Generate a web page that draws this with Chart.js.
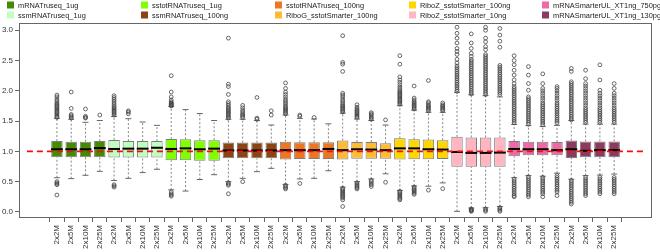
<!DOCTYPE html>
<html>
<head>
<meta charset="utf-8">
<script src="https://cdn.jsdelivr.net/npm/chart.js@4.4.1/dist/chart.umd.min.js"></script>
<style>
  html, body { margin: 0; padding: 0; background: #fff; }
</style>
</head>
<body>
<canvas id="Chart" width="660" height="252"></canvas>
<script>
// libraries / sequencing depths
const groups = ['mRNATruseq_1ug', 'ssmRNATruseq_1ug', 'sstotRNATruseq_1ug', 'ssmRNATruseq_100ng',
  'sstotRNATruseq_100ng', 'RiboG_sstotSmarter_100ng', 'RiboZ_sstotSmarter_100ng',
  'RiboZ_sstotSmarter_10ng', 'mRNASmarterUL_XT1ng_750pg', 'mRNASmarterUL_XT1ng_130pg'];
const depths = ['2x2M', '2x5M', '2x10M', '2x25M'];
const groupColors = ['#458B00', '#C1FFC1', '#7FFF00', '#8B4513', '#EE7621',
  '#FFBB33', '#FFD700', '#FFB6C1', '#EE6AA7', '#8B3A62'];
const yTicks = [0, 0.5, 1, 1.5, 2, 2.5, 3];
const refLine = 1.0;

// box statistics, one value per box (10 groups x 4 depths)
const q3 = [1.17, 1.16, 1.16, 1.17,  1.19, 1.17, 1.17, 1.17,  1.205, 1.2, 1.185, 1.185,
  1.145, 1.145, 1.145, 1.145,  1.16, 1.15, 1.15, 1.15,  1.18, 1.155, 1.155, 1.135,
  1.215, 1.2, 1.195, 1.185,  1.24, 1.23, 1.23, 1.23,  1.17, 1.16, 1.16, 1.155,
  1.18, 1.165, 1.165, 1.165];
const medians = [1.035, 1.035, 1.035, 1.055,  1.04, 1.045, 1.045, 1.06,  1.04, 1.05, 1.035, 1.045,
  1.015, 1.015, 1.015, 1.015,  1.02, 1.02, 1.02, 1.04,  1.02, 1.035, 1.03, 1.02,
  1.05, 1.05, 1.035, 1.03,  0.99, 0.975, 0.975, 0.98,  1.04, 1.035, 1.035, 1.02,
  1.035, 1.01, 1.02, 1.02];
const q1 = [0.905, 0.905, 0.905, 0.905,  0.9, 0.9, 0.9, 0.9,  0.855, 0.855, 0.845, 0.845,
  0.885, 0.885, 0.885, 0.885,  0.865, 0.875, 0.875, 0.875,  0.865, 0.88, 0.88, 0.88,
  0.865, 0.87, 0.87, 0.875,  0.745, 0.745, 0.745, 0.745,  0.92, 0.935, 0.935, 0.935,
  0.89, 0.905, 0.905, 0.905];
const whiskerHigh = [1.545, 1.53, 1.48, 1.51,  1.575, 1.54, 1.485, 1.43,  1.74, 1.69, 1.625, 1.51,
  1.53, 1.53, 1.51, 1.435,  1.6, 1.545, 1.535, 1.455,  1.63, 1.535, 1.51, 1.435,
  1.755, 1.68, 1.645, 1.645,  1.975, 1.935, 1.92, 1.9,  1.445, 1.425, 1.41, 1.43,
  1.51, 1.45, 1.45, 1.45];
const whiskerLow = [0.565, 0.55, 0.605, 0.67,  0.52, 0.555, 0.65, 0.705,  0.365, 0.345, 0.535, 0.615,
  0.5, 0.555, 0.665, 0.72,  0.455, 0.545, 0.555, 0.68,  0.41, 0.5, 0.545, 0.63,
  0.355, 0.43, 0.425, 0.48,  0.01, 0.065, 0.07, 0.09,  0.565, 0.6, 0.59, 0.64,
  0.54, 0.6, 0.61, 0.625];
const outliers = [
  [1.56, 1.58, 1.6, 1.62, 1.64, 1.66, 1.68, 1.7, 1.72, 1.74, 1.76, 1.78, 1.8, 1.83, 1.86, 1.9, 1.93, 0.5, 0.48, 0.46, 0.45, 0.28],
  [1.55, 1.57, 1.59, 1.61, 1.71, 1.98],
  [1.55, 1.56, 1.58, 1.7],
  [1.6],
  [1.6, 1.62, 1.64, 1.66, 1.68, 1.7, 1.72, 1.74, 1.77, 1.8, 1.83, 1.86, 1.89, 1.92, 0.45, 0.43, 0.41],
  [1.62, 1.65, 1.67],
  [],
  [],
  [1.75, 1.76, 1.77, 1.78, 1.79, 1.8, 1.82, 1.85, 1.9, 1.98, 2.25, 0.33, 0.3, 0.28, 0.26],
  [],
  [],
  [],
  [1.55, 1.57, 1.59, 1.61, 1.63, 1.65, 1.67, 1.69, 1.71, 1.73, 1.76, 1.79, 1.82, 1.94, 2.07, 2.11, 2.87, 0.48, 0.46, 0.44, 0.3],
  [1.56, 1.58, 1.6, 1.62, 1.65, 1.68, 1.72, 1.76, 0.5],
  [1.53, 1.55, 1.89],
  [1.6, 1.67],
  [1.62, 1.64, 1.66, 1.68, 1.7, 1.72, 1.74, 1.77, 1.8, 1.83, 1.86, 1.9, 1.94, 1.98, 2.04, 2.13, 0.44, 0.42, 0.4, 0.38],
  [1.58, 1.6, 0.47],
  [1.56],
  [],
  [1.65, 1.67, 1.69, 1.71, 1.73, 1.75, 1.77, 1.8, 1.83, 1.86, 1.9, 1.93, 1.96, 2.32, 2.44, 2.47, 2.91,
    0.39, 0.37, 0.35, 0.33, 0.31, 0.29, 0.27, 0.25, 0.23, 0.2, 0.09],
  [1.56, 1.58, 1.6, 1.62, 1.64, 1.66, 1.68, 1.7, 1.73, 1.77, 0.48, 0.46, 0.44, 0.42, 0.4, 0.38],
  [1.53, 1.55, 1.57, 1.6, 1.62, 1.64, 0.52, 0.5, 0.47, 0.45, 0.42],
  [1.52, 0.49],
  [1.78, 1.8, 1.82, 1.84, 1.86, 1.88, 1.9, 1.92, 1.94, 1.96, 1.98, 2.0, 2.03, 2.06, 2.1, 2.14, 2.18, 2.23, 2.44, 2.58,
    0.34, 0.32, 0.3, 0.28, 0.26, 0.24, 0.22, 0.2],
  [1.7, 1.72, 1.74, 1.76, 1.78, 1.8, 1.82, 1.85, 1.88, 2.08, 0.41, 0.39, 0.37, 0.35, 0.33, 0.31, 0.29],
  [1.67, 1.69, 1.71, 1.73, 1.75, 1.77, 1.8, 1.82, 2.17, 0.36],
  [1.67, 1.69, 1.71, 1.73, 1.75, 1.77, 1.8, 0.385],
  [3.05, 2.95, 2.87, 2.79, 2.7, 2.65, 2.6, 2.52, 2.46, 2.41, 2.38, 2.35, 2.32, 2.29, 2.26, 2.23, 2.2, 2.17,
    2.14, 2.11, 2.08, 2.05, 2.02, 1.99],
  [2.94, 2.79, 2.7, 2.62, 2.57, 2.52, 2.49, 2.46, 2.43, 2.4, 2.37, 2.34, 2.31, 2.28, 2.25, 2.22, 2.19, 2.16,
    2.13, 2.1, 2.07, 2.04, 2.01, 1.98, 1.95, 0.05, 0.04, 0.03, 0.02, 0.01],
  [3.05, 3.0, 2.87, 2.81, 2.73, 2.68, 2.6, 2.57, 2.54, 2.51, 2.48, 2.45, 2.42, 2.39, 2.36, 2.33, 2.3, 2.27,
    2.24, 2.21, 2.18, 2.15, 2.12, 2.09, 2.06, 2.03, 2.0, 1.97, 1.94, 0.05, 0.03, 0.01],
  [3.03, 2.92, 2.82, 2.72, 2.42, 2.39, 2.36, 2.33, 2.3, 2.27, 2.24, 2.21, 2.18, 2.15, 2.12, 2.09, 2.06, 2.03,
    2.0, 1.97, 1.94, 0.07, 0.05, 0.03, 0.01],
  [2.58, 2.5, 2.43, 2.34, 2.26, 2.18, 2.12, 2.07, 2.04, 2.01, 1.98, 1.95, 1.92, 1.89, 1.86, 1.83, 1.8, 1.77,
    1.74, 1.71, 1.68, 1.65, 1.62, 1.59, 1.56, 1.53, 1.5, 1.47,
    0.54, 0.51, 0.48, 0.45, 0.42, 0.39, 0.36, 0.33, 0.3, 0.27, 0.25],
  [2.4, 2.26, 2.12, 2.01, 1.9, 1.87, 1.84, 1.81, 1.78, 1.75, 1.72, 1.69, 1.66, 1.63, 1.6, 1.57, 1.54, 1.51, 1.48, 1.45,
    0.58, 0.55, 0.52, 0.49, 0.46, 0.43, 0.4, 0.37, 0.34, 0.31, 0.28, 0.25],
  [2.28, 2.12, 2.04, 2.0, 1.96, 1.92, 1.88, 1.84, 1.8, 1.77, 1.74, 1.71, 1.68, 1.65, 1.62, 1.59, 1.56, 1.53, 1.5, 1.47, 1.44,
    0.57, 0.54, 0.51, 0.48, 0.45, 0.42, 0.39, 0.36, 0.33, 0.3, 0.25],
  [2.07, 2.04, 2.0, 1.96, 1.92, 1.88, 1.84, 1.8, 1.77, 1.74, 1.71, 1.68, 1.65, 1.62, 1.59, 1.56, 1.53, 1.5, 1.47,
    0.6, 0.57, 0.54, 0.51, 0.48, 0.45, 0.42, 0.39, 0.36, 0.33, 0.27],
  [2.37, 2.32, 2.15, 2.12, 2.09, 2.06, 2.03, 2.0, 1.97, 1.94, 1.91, 1.88, 1.85, 1.82, 1.79, 1.76, 1.73, 1.7, 1.67,
    1.64, 1.61, 1.58, 1.55, 1.52, 0.52, 0.49, 0.46, 0.43, 0.4, 0.37, 0.34, 0.31, 0.28, 0.25, 0.22, 0.19, 0.16, 0.13],
  [2.34, 2.2, 2.12, 2.08, 2.04, 2.0, 1.96, 1.92, 1.88, 1.84, 1.8, 1.76, 1.72, 1.69, 1.66, 1.63, 1.6, 1.57, 1.54, 1.51, 1.48,
    0.57, 0.54, 0.51, 0.48, 0.45, 0.42, 0.39, 0.36, 0.33, 0.3, 0.27],
  [2.43, 2.18, 2.01, 1.96, 1.92, 1.88, 1.84, 1.8, 1.76, 1.72, 1.69, 1.66, 1.63, 1.6, 1.57, 1.54, 1.51, 1.48,
    0.57, 0.54, 0.51, 0.48, 0.45, 0.42, 0.39, 0.36, 0.33, 0.3],
  [2.12, 2.04, 1.96, 1.92, 1.88, 1.84, 1.8, 1.76, 1.72, 1.69, 1.66, 1.63, 1.6, 1.57, 1.54, 1.51, 1.48,
    0.57, 0.54, 0.51, 0.48, 0.45, 0.42, 0.39, 0.36, 0.33, 0.3]
];

// R style axis range: boxes at 1..n, extended 4%
const nBox = groups.length * depths.length;
const xMin = 0.5 - 0.04 * nBox, xMax = nBox + 0.5 + 0.04 * nBox;
const yMin = -0.1, yMax = 3.12;

const xLabels = groups.flatMap(() => depths);

// datasets
const boxSets = groups.map((g, gi) => ({
  type: 'bar',
  label: g,
  data: depths.map((d, j) => {
    const i = gi * depths.length + j;
    return { x: i + 1, y: [q1[i], q3[i]] };
  }),
  backgroundColor: groupColors[gi],
  borderColor: 'rgba(70,70,70,0.7)',
  borderWidth: 1,
  borderSkipped: false,
  grouped: false,
  barPercentage: 0.8,
  categoryPercentage: 1,
  order: 4
}));

const whiskerData = [];
const capData = [];
const medData = [];
const outData = [];
for (let i = 0; i < nBox; i++) {
  whiskerData.push({ x: i + 1, y: whiskerLow[i] }, { x: i + 1, y: q1[i] }, { x: i + 1, y: null });
  whiskerData.push({ x: i + 1, y: q3[i] }, { x: i + 1, y: whiskerHigh[i] }, { x: i + 1, y: null });
  capData.push({ x: i + 1, y: whiskerLow[i] }, { x: i + 1, y: whiskerHigh[i] });
  medData.push({ x: i + 1, y: medians[i] });
  outliers[i].forEach(v => outData.push({ x: i + 1, y: v }));
}

const chart = document.getElementById('Chart').getContext('2d');

// legend drawn by hand: 5 columns x 2 rows like the R plot
const legendPlugin = {
  id: 'rLegend',
  afterDraw(c) {
    const ctx = c.ctx;
    ctx.save();
    ctx.font = '7.4px "Liberation Sans", Arial, sans-serif';
    ctx.textBaseline = 'middle';
    const colX = [7, 141, 275, 409, 542];
    const rowY = [5, 15];
    groups.forEach((g, i) => {
      const col = Math.floor(i / 2), row = i % 2;
      ctx.fillStyle = groupColors[i];
      ctx.fillRect(colX[col], rowY[row] - 3.5, 7, 7);
      ctx.fillStyle = '#222';
      ctx.fillText(g, colX[col] + 11, rowY[row] + 0.5);
    });
    ctx.restore();
  }
};

const framePlugin = {
  id: 'frame',
  afterDraw(c) {
    const a = c.chartArea, ctx = c.ctx;
    ctx.save();
    ctx.strokeStyle = '#666';
    ctx.lineWidth = 1;
    ctx.strokeRect(Math.round(a.left) + 0.5, Math.round(a.top) + 0.5,
      Math.round(a.right - a.left) - 1, Math.round(a.bottom - a.top) - 1);
    ctx.restore();
  }
};

Chart.defaults.font.family = '"Liberation Sans", Arial, sans-serif';

const boxChart = new Chart(chart, {
  type: 'bar',
  data: {
    datasets: [
      ...boxSets,
      {
        type: 'line', label: 'whisker', data: whiskerData,
        borderColor: '#666', borderWidth: 0.8, borderDash: [2, 2],
        pointRadius: 0, spanGaps: false, order: 6
      },
      {
        type: 'scatter', label: 'cap', data: capData,
        pointStyle: 'line', pointRadius: 3, borderColor: '#666', borderWidth: 1, order: 5
      },
      {
        type: 'scatter', label: 'median', data: medData,
        pointStyle: 'line', pointRadius: 5.9, borderColor: '#000', borderWidth: 2, order: 3
      },
      {
        type: 'scatter', label: 'outlier', data: outData,
        pointStyle: 'circle', pointRadius: 1.9, borderColor: '#444', backgroundColor: 'rgba(0,0,0,0)',
        borderWidth: 0.8, order: 2
      },
      {
        type: 'line', label: 'ref', data: [{ x: xMin, y: refLine }, { x: xMax, y: refLine }],
        borderColor: '#EE1111', borderWidth: 1.6, borderDash: [6, 4], pointRadius: 0, order: 1
      }
    ]
  },
  options: {
    responsive: false,
    animation: false,
    devicePixelRatio: 1,
    layout: { padding: { top: 23, right: 5, left: 0, bottom: 0 } },
    plugins: { legend: { display: false }, tooltip: { enabled: false } },
    scales: {
      x: {
        type: 'linear',
        min: xMin,
        max: xMax,
        afterBuildTicks: s => { s.ticks = xLabels.map((l, i) => ({ value: i + 1 })); },
        afterFit: s => { s.height = 34; },
        ticks: {
          autoSkip: false,
          minRotation: 90,
          maxRotation: 90,
          padding: 3,
          color: '#333',
          font: { size: 8 },
          callback: (v) => xLabels[Math.round(v) - 1]
        },
        grid: { drawOnChartArea: false, drawTicks: true, tickLength: 4, color: '#666' },
        border: { display: false }
      },
      y: {
        type: 'linear',
        min: yMin,
        max: yMax,
        afterBuildTicks: s => { s.ticks = yTicks.map(v => ({ value: v })); },
        afterFit: s => { s.width = 19; },
        ticks: {
          padding: 2,
          color: '#333',
          font: { size: 8 },
          callback: v => v.toFixed(1)
        },
        grid: { drawOnChartArea: false, drawTicks: true, tickLength: 4, color: '#666' },
        border: { display: false }
      }
    }
  },
  plugins: [legendPlugin, framePlugin]
});
</script>
</body>
</html>
